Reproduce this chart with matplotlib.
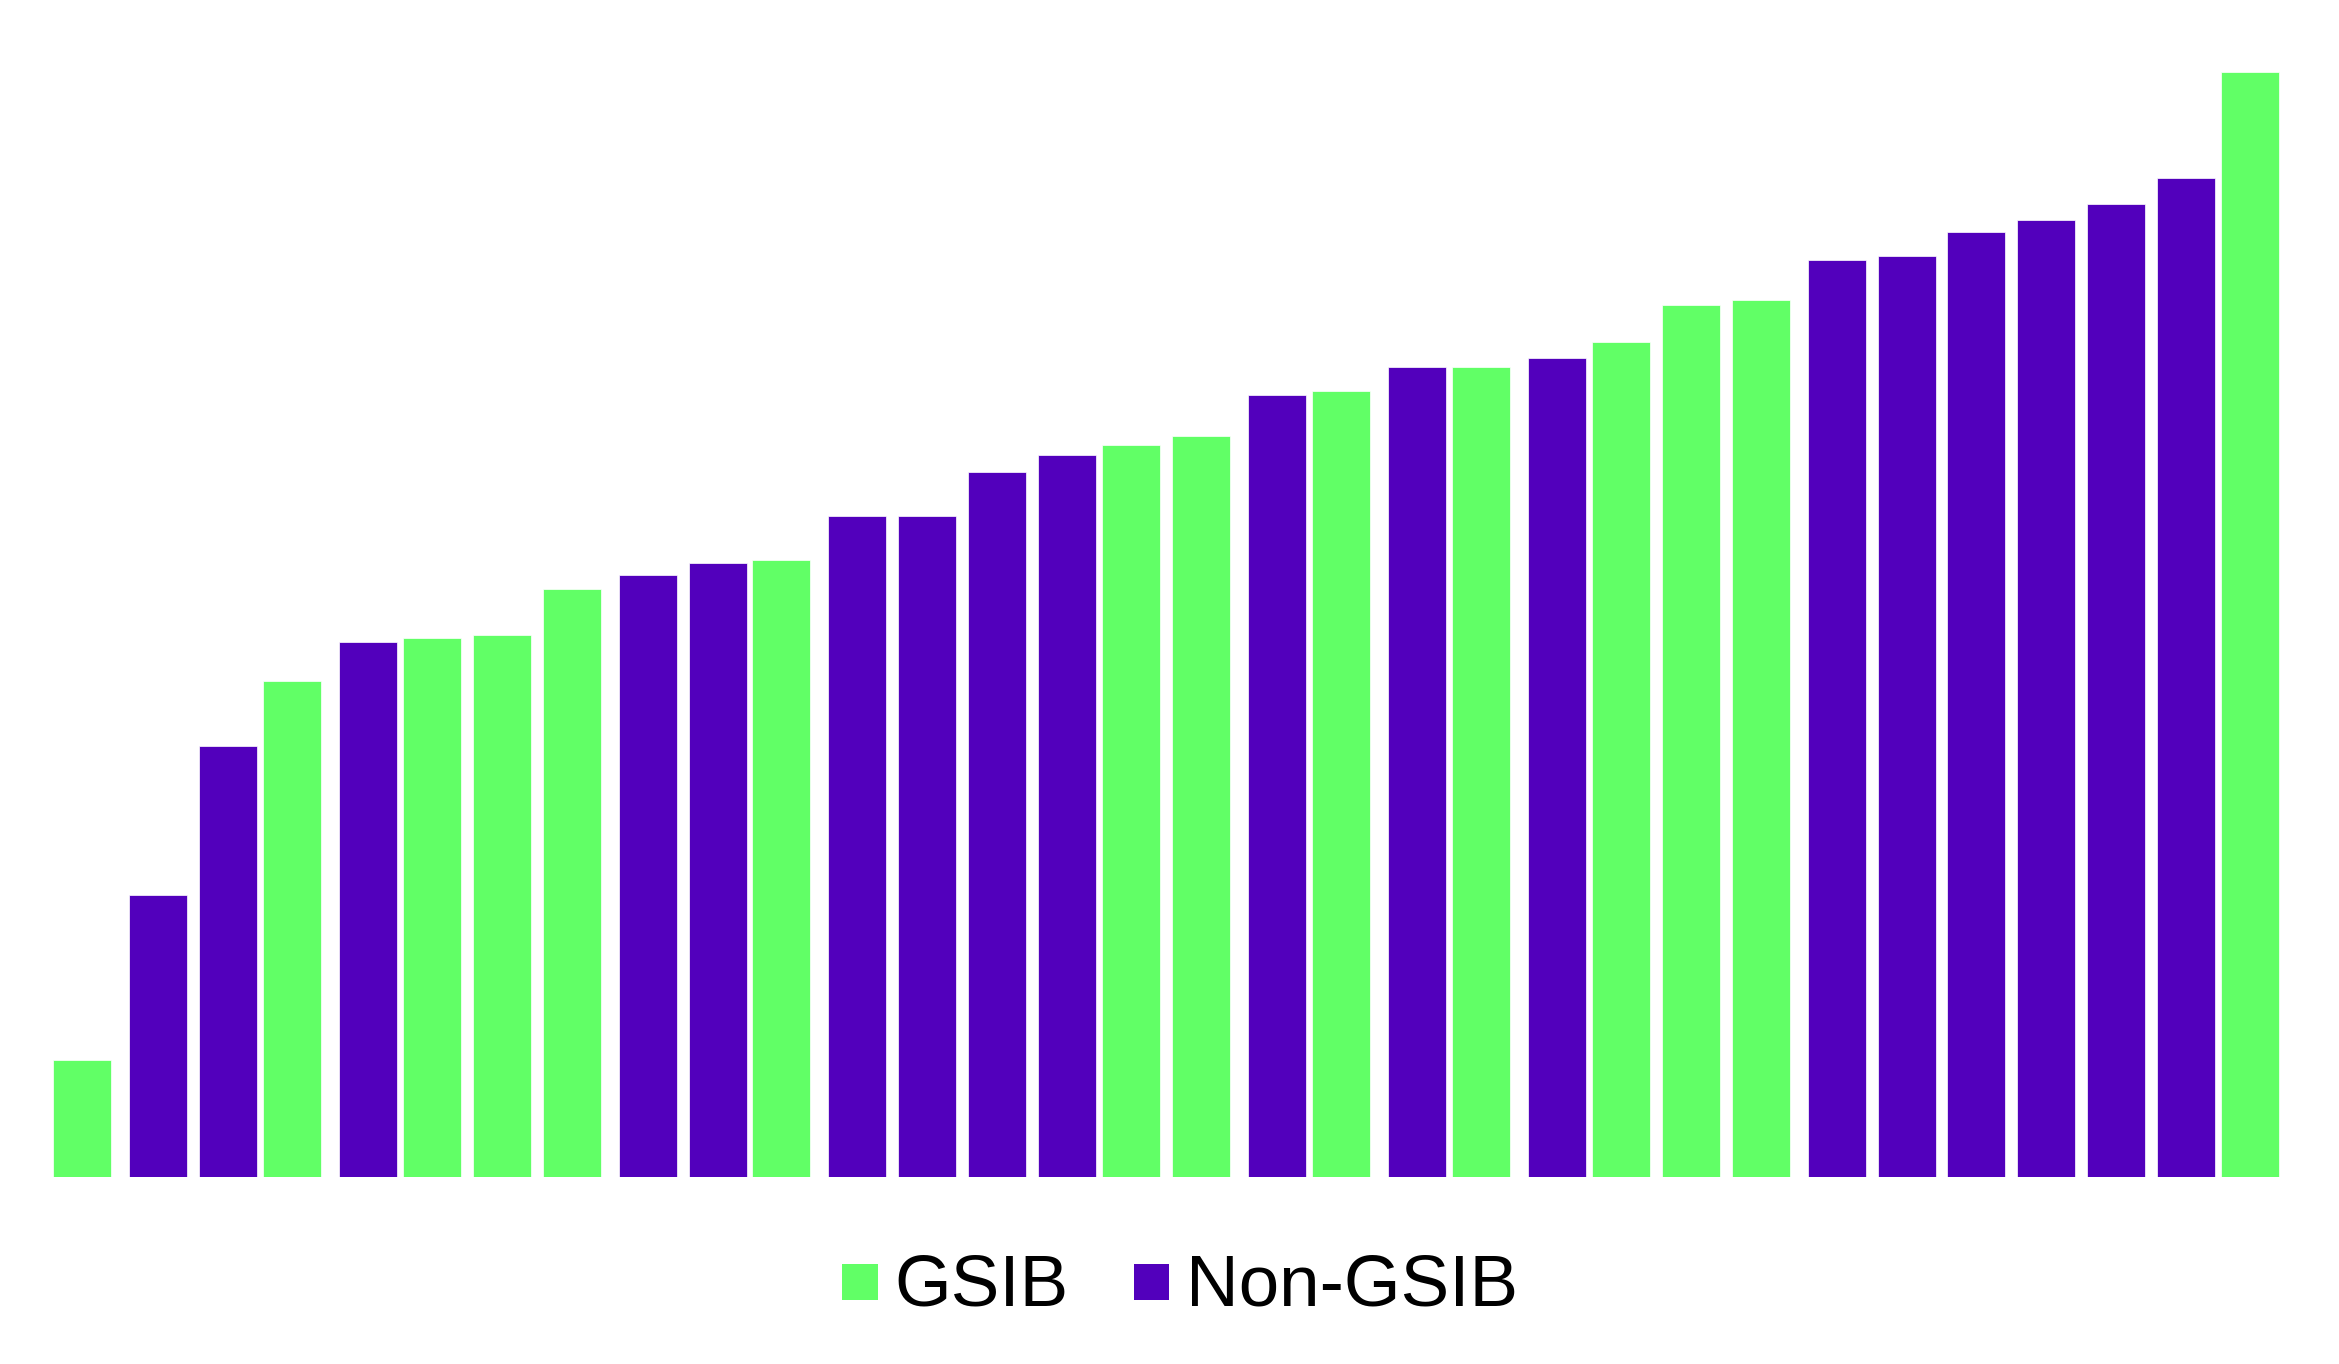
import matplotlib
matplotlib.use("Agg")
import matplotlib.pyplot as plt
from matplotlib.patches import Rectangle, Patch
from matplotlib.legend_handler import HandlerPatch
import numpy as np

# ---- data (bar order left to right) ----
groups = ["GSIB", "Non-GSIB", "Non-GSIB", "GSIB", "Non-GSIB", "GSIB", "GSIB", "GSIB",
          "Non-GSIB", "Non-GSIB", "GSIB", "Non-GSIB", "Non-GSIB", "Non-GSIB", "Non-GSIB", "GSIB",
          "GSIB", "Non-GSIB", "GSIB", "Non-GSIB", "GSIB", "Non-GSIB", "GSIB", "GSIB",
          "GSIB", "Non-GSIB", "Non-GSIB", "Non-GSIB", "Non-GSIB", "Non-GSIB", "Non-GSIB", "GSIB"]
values = [11.7, 28.2, 43.1, 49.6, 53.5, 53.9, 54.2, 58.8,
          60.2, 61.4, 61.7, 66.1, 66.1, 70.5, 72.2, 73.2,
          74.1, 78.2, 78.6, 81.0, 81.0, 81.9, 83.5, 87.2,
          87.7, 91.7, 92.1, 94.5, 95.7, 97.3, 99.9, 110.5]
series_names = ["GSIB", "Non-GSIB"]
series_colors = {"GSIB": "#61FF66", "Non-GSIB": "#5200BC"}

W, H = 2339, 1364
fig = plt.figure(figsize=(W / 100, H / 100), dpi=100)
base_px = 1177
ax = fig.add_axes([0, (H - base_px) / H, 1, base_px / H])

x = np.arange(len(values))
offsets = {"GSIB": -0.0433, "Non-GSIB": 0.0433}
for name in series_names:
    idx = [i for i, g in enumerate(groups) if g == name]
    ax.bar(x[idx] + offsets[name], [values[i] for i in idx], width=0.829,
           color=series_colors[name], edgecolor="white", linewidth=0.5, label=name)

ax.set_xlim(-1.2158, 32.227)
ax.set_ylim(0, base_px / 10)
ax.axis("off")


class SquareHandler(HandlerPatch):
    def create_artists(self, legend, orig_handle, xdescent, ydescent, width, height,
                       fontsize, trans):
        r = Rectangle((-xdescent, 3.6), width, 25.9, facecolor=orig_handle.get_facecolor(),
                      edgecolor="none", transform=trans)
        return [r]


handles = [Patch(facecolor=series_colors[n]) for n in series_names]
fig.legend(handles, series_names, loc="center", bbox_to_anchor=(0.5045, 0.0568), ncol=2,
           frameon=False, borderpad=0, handlelength=0.493, handletextpad=0.23,
           columnspacing=0.89, prop={"family": "Liberation Sans", "size": 52.5},
           handler_map={Patch: SquareHandler()})

fig.savefig("out.png", dpi=100, facecolor="white")
